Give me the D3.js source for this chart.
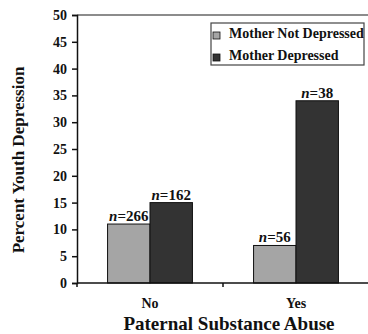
<!DOCTYPE html>
<html>
<head>
<meta charset="utf-8">
<script src="https://cdn.jsdelivr.net/npm/d3@7"></script>
<style>
  body { margin: 0; background: #fff; }
  text { font-family: "Liberation Serif", "Times New Roman", serif; font-weight: bold; fill: #111; }
</style>
</head>
<body>
<svg width="368" height="334"></svg>
<script>
var categories = ["No", "Yes"];
var seriesNames = ["Mother Not Depressed", "Mother Depressed"];
var notDepressed = [11, 7];
var depressed = [15, 34];
var nNotDepressed = ["266", "56"];
var nDepressed = ["162", "38"];
var yTicks = [0, 5, 10, 15, 20, 25, 30, 35, 40, 45, 50];

var svg = d3.select("svg");
var colors = ["#a5a5a5", "#333333"];

// plot area (avoid window.top)
var pLeft = 77, pRight = 369, pTop = 15, pBottom = 283;

var x = d3.scaleBand()
    .domain(categories)
    .range([pLeft, pRight]);

var inner = d3.scaleBand()
    .domain([0, 1])
    .range([0, x.bandwidth()])
    .paddingOuter(0.72)
    .paddingInner(0);

var y = d3.scaleLinear()
    .domain([0, 50])
    .range([pBottom, pTop]);

// top border
svg.append("line")
    .attr("x1", pLeft).attr("x2", pRight)
    .attr("y1", y(50)).attr("y2", y(50))
    .attr("stroke", "#666").attr("stroke-width", 1.5);

// Y axis
var yAxis = svg.append("g")
    .attr("transform", "translate(" + pLeft + ",0)")
    .call(d3.axisLeft(y).tickValues(yTicks).tickSize(5).tickPadding(5));
yAxis.attr("font-family", null).attr("font-size", null);
yAxis.selectAll("text").style("font-size", "14px");
yAxis.selectAll("path, line").attr("stroke", "#111").attr("stroke-width", 1.5);

// bars
var data = [];
categories.forEach(function (c, i) {
    data.push({ cat: c, s: 0, v: notDepressed[i], n: nNotDepressed[i] });
    data.push({ cat: c, s: 1, v: depressed[i], n: nDepressed[i] });
});

svg.append("g")
    .selectAll("rect")
    .data(data)
    .join("rect")
    .attr("x", d => x(d.cat) + inner(d.s))
    .attr("y", d => y(d.v))
    .attr("width", inner.bandwidth())
    .attr("height", d => y(0) - y(d.v))
    .attr("fill", d => colors[d.s])
    .attr("stroke", "#111")
    .attr("stroke-width", 1);

var labels = svg.append("g")
    .selectAll("text")
    .data(data)
    .join("text")
    .attr("x", d => x(d.cat) + inner(d.s) + inner.bandwidth() / 2)
    .attr("y", d => y(d.v) - 3)
    .attr("text-anchor", "middle")
    .style("font-size", "15px");
labels.append("tspan").style("font-style", "italic").text("n");
labels.append("tspan").text(d => "=" + d.n);

// X axis
var xAxisG = svg.append("g")
    .attr("transform", "translate(0," + pBottom + ")");
xAxisG.append("line")
    .attr("x1", pLeft).attr("x2", pRight)
    .attr("stroke", "#111").attr("stroke-width", 1.5);
xAxisG.selectAll(".tick")
    .data([pLeft].concat(categories.slice(1).map(c => x(c))))
    .join("line")
    .attr("class", "tick")
    .attr("x1", d => d).attr("x2", d => d)
    .attr("y1", 0).attr("y2", 4)
    .attr("stroke", "#111").attr("stroke-width", 1.5);
xAxisG.selectAll("text")
    .data(categories)
    .join("text")
    .attr("x", d => x(d) + x.bandwidth() / 2)
    .attr("y", 25)
    .attr("text-anchor", "middle")
    .style("font-size", "14px")
    .text(d => d);

// axis titles
svg.append("text")
    .attr("x", 229)
    .attr("y", 330)
    .attr("text-anchor", "middle")
    .style("font-size", "19px")
    .text("Paternal Substance Abuse");

svg.append("text")
    .attr("transform", "translate(24,160) rotate(-90)")
    .attr("text-anchor", "middle")
    .style("font-size", "17px")
    .text("Percent Youth Depression");

// legend
var legend = svg.append("g").attr("transform", "translate(211,23)");
legend.append("rect")
    .attr("width", 153).attr("height", 42)
    .attr("fill", "#fff").attr("stroke", "#444").attr("stroke-width", 1.2);
var items = legend.selectAll("g")
    .data(seriesNames)
    .join("g")
    .attr("transform", (d, i) => "translate(2," + (9 + i * 22) + ")");
items.append("rect")
    .attr("width", 7).attr("height", 7)
    .attr("fill", (d, i) => colors[i])
    .attr("stroke", "#111").attr("stroke-width", 0.8);
items.append("text")
    .attr("x", 16).attr("y", 6)
    .style("font-size", "14px")
    .text(d => d);
</script>
</body>
</html>
